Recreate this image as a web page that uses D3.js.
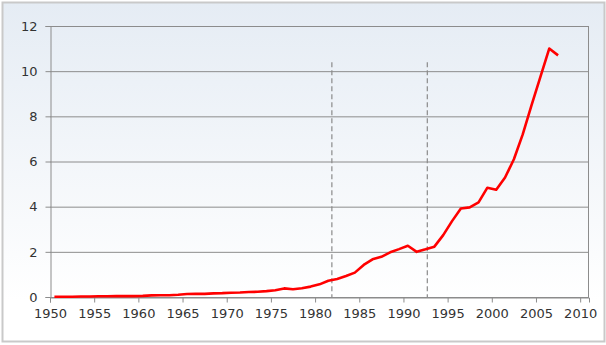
<!DOCTYPE html>
<html>
<head>
<meta charset="utf-8">
<script src="https://cdn.jsdelivr.net/npm/d3@7"></script>
<style>
  html, body { margin: 0; padding: 0; background: #fff; }
  svg { display: block; font-family: "DejaVu Sans", Verdana, sans-serif; }
</style>
</head>
<body>
<div id="chart"></div>
<script>
// yearly series
const years = d3.range(1950, 2008);
const values = [
  0.01, 0.01, 0.01, 0.02, 0.02, 0.03, 0.03, 0.04, 0.04, 0.04,
  0.05, 0.07, 0.08, 0.08, 0.10, 0.13, 0.14, 0.14, 0.16, 0.17,
  0.19, 0.20, 0.22, 0.23, 0.26, 0.30, 0.38, 0.34, 0.39, 0.46,
  0.56, 0.72, 0.80, 0.93, 1.08, 1.42, 1.67, 1.78, 1.98, 2.12,
  2.27, 2.00, 2.11, 2.23, 2.74, 3.36, 3.92, 3.97, 4.19, 4.84,
  4.75, 5.29, 6.10, 7.20, 8.50, 9.75, 11.00, 10.70
];
const yTicks = [0, 2, 4, 6, 8, 10, 12];
const xTicks = d3.range(1950, 2011, 5);
const markers = [1981.9, 1992.7];   // dashed verticals (year)
const markerTop = 10.4;

const W = 606, H = 345;
const margin = { top: 26, right: 17, bottom: 48, left: 50 };

const svg = d3.select("#chart").append("svg")
  .attr("width", W)
  .attr("height", H);

const grad = svg.append("defs").append("linearGradient")
  .attr("id", "bg").attr("x1", 0).attr("y1", 0).attr("x2", 0).attr("y2", 1);
grad.append("stop").attr("offset", "0%").attr("stop-color", "#e5ecf4");
grad.append("stop").attr("offset", "88%").attr("stop-color", "#ffffff");
grad.append("stop").attr("offset", "100%").attr("stop-color", "#ffffff");

svg.append("rect")
  .attr("x", 2.5).attr("y", 2.5)
  .attr("width", W - 4).attr("height", H - 6)
  .attr("fill", "url(#bg)")
  .attr("stroke", "#c9c9c9")
  .attr("stroke-width", 2);

const x = d3.scaleLinear().domain([1950, 2011]).range([margin.left, W - margin.right]);
const y = d3.scaleLinear().domain([0, 12]).range([H - margin.bottom, margin.top]);

// horizontal grid
svg.append("g")
  .selectAll("line")
  .data(yTicks)
  .join("line")
  .attr("x1", x(1950)).attr("x2", x(2011))
  .attr("y1", d => y(d) + 0.5).attr("y2", d => y(d) + 0.5)
  .attr("stroke", "#8c8c8c");

// right border
svg.append("line")
  .attr("x1", x(2011) - 0.5).attr("x2", x(2011) - 0.5)
  .attr("y1", y(12)).attr("y2", y(0))
  .attr("stroke", "#8c8c8c");

// axes
svg.append("g")
  .attr("transform", `translate(0,${y(0) + 0.5})`)
  .call(d3.axisBottom(x).tickValues(xTicks).tickFormat(d3.format("d")).tickSize(5).tickPadding(6))
  .call(g => g.select(".domain").attr("stroke", "#8c8c8c"))
  .call(g => g.selectAll(".tick line").attr("stroke", "#8c8c8c"))
  .call(g => g.selectAll("text").attr("font-size", 13).attr("fill", "#333")
    .attr("font-family", "DejaVu Sans, Verdana, sans-serif"));

svg.append("g")
  .attr("transform", `translate(${x(1950) + 0.5},0)`)
  .call(d3.axisLeft(y).tickValues(yTicks).tickSize(5).tickPadding(8))
  .call(g => g.select(".domain").attr("stroke", "#8c8c8c"))
  .call(g => g.selectAll(".tick line").attr("stroke", "#8c8c8c"))
  .call(g => g.selectAll("text").attr("font-size", 13).attr("fill", "#333")
    .attr("font-family", "DejaVu Sans, Verdana, sans-serif"));

// dashed markers
svg.append("g")
  .selectAll("line")
  .data(markers)
  .join("line")
  .attr("x1", d => x(d)).attr("x2", d => x(d))
  .attr("y1", y(markerTop)).attr("y2", y(0))
  .attr("stroke", "#8a8a8a")
  .attr("stroke-width", 1.2)
  .attr("stroke-dasharray", "5,3");

// series (points sit mid-year)
const line = d3.line()
  .x((d, i) => x(years[i] + 0.5))
  .y(d => y(d));

svg.append("path")
  .datum(values)
  .attr("d", line)
  .attr("fill", "none")
  .attr("stroke", "#ff0000")
  .attr("stroke-width", 2.6)
  .attr("stroke-linejoin", "round");
</script>
</body>
</html>
